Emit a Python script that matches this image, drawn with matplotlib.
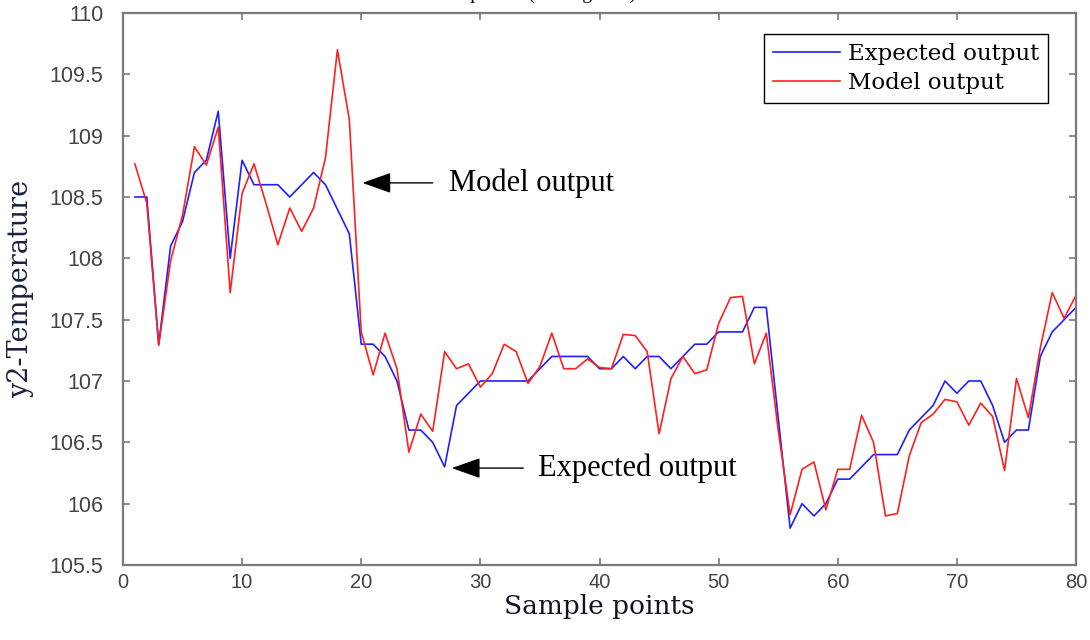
import matplotlib
matplotlib.use('Agg')
import matplotlib.pyplot as plt
import numpy as np

# sample index 1..80
samples = np.arange(1, 81)

expected = [
    108.5, 108.5, 107.3, 108.1, 108.3, 108.7, 108.8, 109.2, 108.0, 108.8,
    108.6, 108.6, 108.6, 108.5, 108.6, 108.7, 108.6, 108.4, 108.2, 107.3,
    107.3, 107.2, 107.0, 106.6, 106.6, 106.5, 106.3, 106.8, 106.9, 107.0,
    107.0, 107.0, 107.0, 107.0, 107.1, 107.2, 107.2, 107.2, 107.2, 107.1,
    107.1, 107.2, 107.1, 107.2, 107.2, 107.1, 107.2, 107.3, 107.3, 107.4,
    107.4, 107.4, 107.6, 107.6, 106.7, 105.8, 106.0, 105.9, 106.0, 106.2,
    106.2, 106.3, 106.4, 106.4, 106.4, 106.6, 106.7, 106.8, 107.0, 106.9,
    107.0, 107.0, 106.8, 106.5, 106.6, 106.6, 107.2, 107.4, 107.5, 107.6,
]

model = [
    108.77, 108.45, 107.29, 107.98, 108.35, 108.91, 108.76, 109.07, 107.72, 108.53,
    108.77, 108.45, 108.11, 108.41, 108.22, 108.41, 108.82, 109.70, 109.13, 107.40,
    107.05, 107.39, 107.10, 106.42, 106.73, 106.59, 107.24, 107.10, 107.14, 106.95,
    107.06, 107.30, 107.24, 106.98, 107.12, 107.39, 107.10, 107.10, 107.18, 107.11,
    107.10, 107.38, 107.37, 107.24, 106.57, 107.02, 107.20, 107.06, 107.09, 107.47,
    107.68, 107.69, 107.14, 107.39, 106.60, 105.91, 106.28, 106.34, 105.95, 106.28,
    106.28, 106.72, 106.50, 105.90, 105.92, 106.39, 106.66, 106.73, 106.85, 106.83,
    106.64, 106.82, 106.71, 106.27, 107.02, 106.70, 107.27, 107.72, 107.51, 107.70,
]

x_ticks = [0, 10, 20, 30, 40, 50, 60, 70, 80]
y_ticks = [105.5, 106, 106.5, 107, 107.5, 108, 108.5, 109, 109.5, 110]
y_tick_labels = ['105.5', '106', '106.5', '107', '107.5', '108', '108.5', '109', '109.5', '110']

fig = plt.figure(figsize=(10.9, 6.4), dpi=100)
ax = fig.add_axes([0.1128, 0.1172, 0.8744, 0.8625])

ax.plot(samples, expected, color='#1f1fff', lw=1.2, label='Expected output')
ax.plot(samples, model, color='#ff1f1f', lw=1.2, label='Model output')

ax.set_xlim(0, 80)
ax.set_ylim(105.5, 110)
ax.set_xticks(x_ticks)
ax.set_yticks(y_ticks)
ax.set_yticklabels(y_tick_labels)

for sp in ax.spines.values():
    sp.set_color('#7a7a7a')
    sp.set_linewidth(1.6)

ax.tick_params(direction='in', length=5, width=1.2, color='#7a7a7a',
               top=True, right=True, labelcolor='#444444')
ax.tick_params(axis='y', pad=14, labelsize=15.5)
ax.tick_params(axis='x', pad=6, labelsize=14.5)
for lbl in ax.get_yticklabels():
    lbl.set_family(['Liberation Sans', 'DejaVu Sans'])
for lbl in ax.get_xticklabels():
    lbl.set_family(['Liberation Sans Narrow', 'Liberation Sans', 'DejaVu Sans'])

ax.set_xlabel('Sample points', family='DejaVu Serif', fontsize=19, color='#111122', labelpad=1)
ax.set_ylabel('y2-Temperature', family='DejaVu Serif', fontsize=19.5, color='#1a2040',
              labelpad=11)

leg = ax.legend(loc='upper right', bbox_to_anchor=(0.9706, 0.962), borderaxespad=0,
                prop={'family': 'DejaVu Serif', 'size': 16.5}, handlelength=2.9,
                handletextpad=0.35, labelspacing=0.3, borderpad=0.4,
                fancybox=False, framealpha=1)
leg.get_frame().set_edgecolor('black')
leg.get_frame().set_linewidth(1.0)

arrow = dict(arrowstyle='-|>,head_length=0.9,head_width=0.32', mutation_scale=20,
             color='black', lw=1, shrinkA=0, shrinkB=0)
ax.annotate('', xy=(20.1, 108.615), xytext=(26.0, 108.615), arrowprops=arrow)
ax.text(27.4, 108.615, 'Model output', family='Liberation Serif', fontsize=22,
        va='center', ha='left')
ax.annotate('', xy=(27.6, 106.29), xytext=(33.6, 106.29), arrowprops=arrow)
ax.text(34.85, 106.29, 'Expected output', family='Liberation Serif', fontsize=22,
        va='center', ha='left')

# title sits mostly above the canvas, only its descenders show
fig.text(0.494, 1.0 + 1.0 / 640, 'Output Y2 (Testing data)', family='Liberation Serif',
         fontsize=14, ha='center', va='baseline')

fig.savefig('out.png', dpi=100)
